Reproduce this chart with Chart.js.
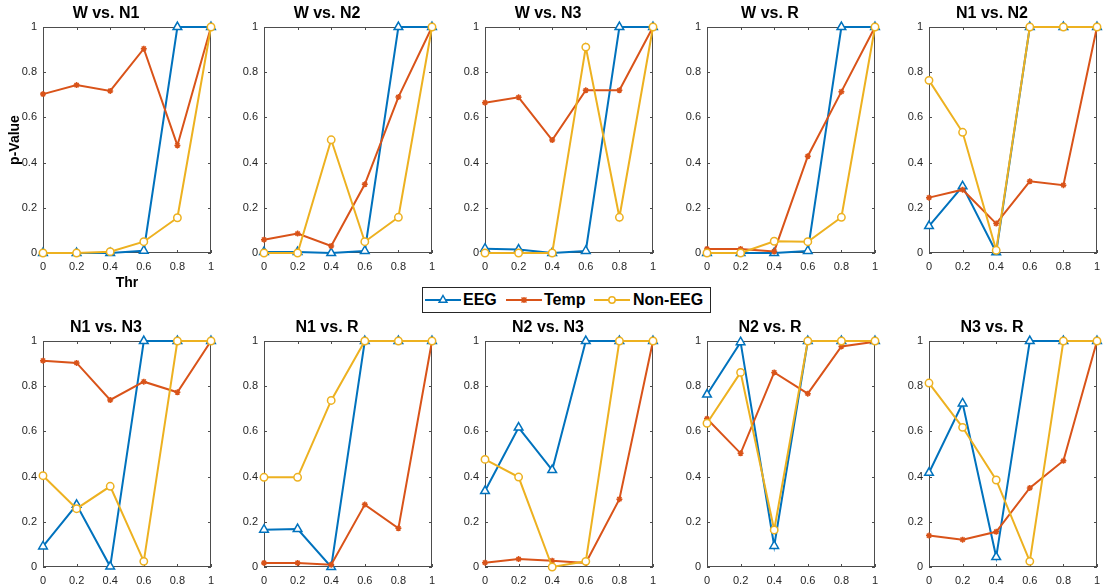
<!DOCTYPE html>
<html>
<head>
<meta charset="utf-8">
<script src="https://cdn.jsdelivr.net/npm/chart.js@4.4.1/dist/chart.umd.min.js"></script>
<style>
  body { margin: 0; background: #fff; width: 1104px; height: 588px; position: relative; overflow: hidden;
         font-family: "Liberation Sans", Arial, sans-serif; }
  canvas { position: absolute; }
  #legend { position: absolute; left: 422px; top: 287px; width: 289px; height: 26px; box-sizing: border-box;
            border: 1px solid #262626; background: #fff; z-index: 5; }
  #legend svg, #legend span { position: absolute; }
  #legend span { top: 4px; font-weight: bold; font-size: 16px; line-height: 16px; color: #000; }
</style>
</head>
<body>
<div id="legend">
  <svg style="left:2px;top:5px" width="36" height="14">
    <line x1="0" y1="7" x2="36" y2="7" stroke="#0072BD" stroke-width="2"/>
    <polygon points="18,2.5 21.9,9.3 14.1,9.3" fill="#fff" stroke="#0072BD" stroke-width="1.5"/>
  </svg>
  <span style="left:40px">EEG</span>
  <svg style="left:83px;top:5px" width="36" height="14">
    <line x1="0" y1="7" x2="36" y2="7" stroke="#D95319" stroke-width="2"/>
    <path d="M15.5 4.5 L20.5 9.5 M20.5 4.5 L15.5 9.5 M18 4 L18 10" stroke="#D95319" stroke-width="1.5"/>
  </svg>
  <span style="left:121px">Temp</span>
  <svg style="left:171px;top:5px" width="36" height="14">
    <line x1="0" y1="7" x2="36" y2="7" stroke="#EDB120" stroke-width="2"/>
    <circle cx="18" cy="7" r="3.2" fill="#fff" stroke="#EDB120" stroke-width="1.5"/>
  </svg>
  <span style="left:210px">Non-EEG</span>
</div>
<script>
const thr = [0, 0.2, 0.4, 0.6, 0.8, 1];
const thrLabels = ['0', '0.2', '0.4', '0.6', '0.8', '1'];
const pTicks = [0, 0.2, 0.4, 0.6, 0.8, 1];
const pLabels = ['0', '0.2', '0.4', '0.6', '0.8', '1'];

const titles = ['W vs. N1', 'W vs. N2', 'W vs. N3', 'W vs. R', 'N1 vs. N2',
                'N1 vs. N3', 'N1 vs. R', 'N2 vs. N3', 'N2 vs. R', 'N3 vs. R'];

// p-values per panel, one row per comparison
const eeg = [
  [0, 0, 0, 0.01, 1, 1],
  [0.004, 0.004, 0, 0.009, 1, 1],
  [0.019, 0.015, 0, 0.009, 1, 1],
  [0, 0, 0, 0.009, 1, 1],
  [0.119, 0.295, 0.003, 1, 1, 1],
  [0.091, 0.275, 0.002, 1, 1, 1],
  [0.165, 0.168, 0, 1, 1, 1],
  [0.336, 0.617, 0.429, 1, 1, 1],
  [0.763, 0.995, 0.093, 1, 1, 1],
  [0.417, 0.724, 0.044, 1, 1, 1]
];
const temp = [
  [0.703, 0.743, 0.717, 0.904, 0.476, 1],
  [0.059, 0.086, 0.031, 0.304, 0.69, 1],
  [0.665, 0.689, 0.5, 0.72, 0.72, 1],
  [0.018, 0.018, 0.007, 0.428, 0.714, 1],
  [0.245, 0.28, 0.13, 0.317, 0.3, 1],
  [0.913, 0.903, 0.739, 0.82, 0.773, 1],
  [0.018, 0.018, 0.01, 0.276, 0.171, 1],
  [0.019, 0.035, 0.028, 0.018, 0.3, 1],
  [0.656, 0.503, 0.861, 0.767, 0.976, 0.997],
  [0.139, 0.121, 0.156, 0.35, 0.47, 1]
];
const nonEeg = [
  [0, 0, 0.006, 0.05, 0.156, 1],
  [0, 0, 0.501, 0.05, 0.158, 1],
  [0, 0, 0, 0.911, 0.158, 1],
  [0, 0, 0.052, 0.05, 0.158, 1],
  [0.764, 0.534, 0.012, 1, 1, 1],
  [0.404, 0.258, 0.357, 0.025, 1, 1],
  [0.397, 0.397, 0.737, 1, 1, 1],
  [0.476, 0.398, 0, 0.025, 1, 1],
  [0.636, 0.861, 0.164, 1, 1, 1],
  [0.814, 0.618, 0.385, 0.025, 1, 1]
];

Chart.defaults.font.family = '"Liberation Sans", Arial, sans-serif';

const colLeft = [43, 264, 485, 707, 929];
const rowTop = [27, 341];
const PW = 168, PH = 226, YW = 42, TOPH = 30, RPAD = 12;
const axisColor = '#262626';
const tickFont = { size: 11 };

// MATLAB-like box with inward ticks on all four sides
const boxTicks = {
  id: 'boxTicks',
  beforeDatasetsDraw(chart) {
    const { ctx, chartArea: a, scales: { x, y } } = chart;
    ctx.save();
    ctx.strokeStyle = '#4d4d4d';
    ctx.lineWidth = 1;
    ctx.strokeRect(a.left + 0.5, a.top + 0.5, a.right - a.left - 1, a.bottom - a.top - 1);
    ctx.beginPath();
    x.ticks.forEach(t => {
      const p = Math.round(x.getPixelForValue(t.value)) + 0.5;
      ctx.moveTo(p, a.bottom); ctx.lineTo(p, a.bottom - 3);
      ctx.moveTo(p, a.top); ctx.lineTo(p, a.top + 3);
    });
    y.ticks.forEach(t => {
      const p = Math.round(y.getPixelForValue(t.value)) + 0.5;
      ctx.moveTo(a.left, p); ctx.lineTo(a.left + 3, p);
      ctx.moveTo(a.right, p); ctx.lineTo(a.right - 3, p);
    });
    ctx.stroke();
    ctx.restore();
  }
};

function series(label, vals, color, style, r, order) {
  return {
    label: label,
    data: thr.map((t, k) => ({ x: t, y: vals[k] })),
    borderColor: color,
    backgroundColor: color,
    borderWidth: 2,
    pointStyle: style,
    pointRadius: r,
    pointBorderWidth: 1.5,
    pointBorderColor: color,
    pointBackgroundColor: '#fff',
    tension: 0,
    clip: false,
    order: order
  };
}

titles.forEach((title, i) => {
  const col = i % 5, row = Math.floor(i / 5);
  const first = i === 0;
  const xh = first ? 44 : 24;
  const cv = document.createElement('canvas');
  cv.width = YW + PW + RPAD;
  cv.height = TOPH + PH + xh;
  cv.style.left = (colLeft[col] - YW) + 'px';
  cv.style.top = (rowTop[row] - TOPH) + 'px';
  document.body.appendChild(cv);

  new Chart(cv, {
    type: 'line',
    data: {
      datasets: [
        series('EEG', eeg[i], '#0072BD', 'triangle', 5, 2),
        series('Temp', temp[i], '#D95319', 'star', 3, 1),
        series('Non-EEG', nonEeg[i], '#EDB120', 'circle', 3.7, 0)
      ]
    },
    options: {
      responsive: false,
      animation: false,
      events: [],
      layout: { padding: { right: RPAD } },
      plugins: {
        legend: { display: false },
        tooltip: { enabled: false },
        title: {
          display: true, text: title, color: '#000',
          font: { size: 16, weight: 'bold' },
          padding: { top: 7, bottom: 3.8 }
        }
      },
      scales: {
        x: {
          type: 'linear', min: 0, max: 1,
          afterBuildTicks: s => { s.ticks = thr.map(v => ({ value: v })); },
          afterFit: s => { s.height = xh; },
          ticks: { callback: (v, k) => thrLabels[k], font: tickFont, color: axisColor,
                   padding: 7, maxRotation: 0, autoSkip: false },
          grid: { display: false, drawTicks: false },
          border: { display: false },
          title: { display: first, text: 'Thr', color: '#000',
                   font: { size: 14, weight: 'bold' }, padding: { top: 0, bottom: 5 } }
        },
        y: {
          min: 0, max: 1,
          afterBuildTicks: s => { s.ticks = pTicks.map(v => ({ value: v })); },
          afterFit: s => { s.width = YW; },
          ticks: { callback: (v, k) => pLabels[k], font: tickFont, color: axisColor, padding: 6 },
          grid: { display: false, drawTicks: false },
          border: { display: false },
          title: { display: first, text: 'p-Value', color: '#000',
                   font: { size: 14, weight: 'bold' }, padding: { top: 6, bottom: 0 } }
        }
      }
    },
    plugins: [boxTicks]
  });
});
</script>
</body>
</html>
